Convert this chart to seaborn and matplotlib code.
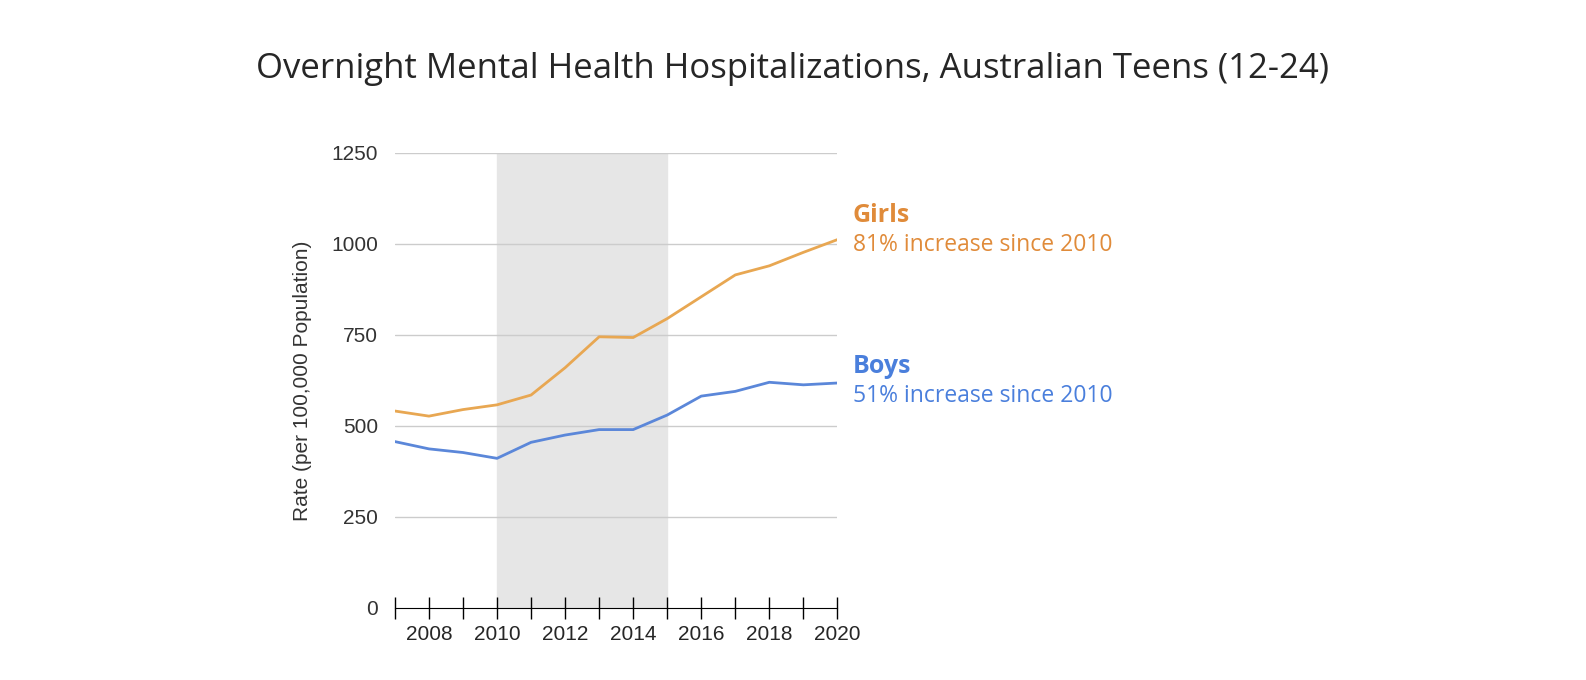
import matplotlib
matplotlib.use("Agg")
import matplotlib.pyplot as plt
import seaborn as sns
import pandas as pd

years = list(range(2007, 2021))
girls = [541, 527, 545, 558, 585, 660, 745, 743, 795, 855, 915, 940, 977, 1012]
boys = [457, 437, 427, 411, 455, 475, 490, 490, 530, 582, 595, 620, 613, 618]
shade_start, shade_end = 2010, 2015

df = pd.DataFrame({"year": years * 2, "rate": girls + boys,
                   "group": ["Girls"] * len(years) + ["Boys"] * len(years)})

sns.set_style("white")
plt.rcParams["font.family"] = ["Liberation Sans", "DejaVu Sans"]

fig = plt.figure(figsize=(15.86, 6.8), dpi=100)
ax = fig.add_axes([0.249, 0.106, 0.279, 0.669])

ax.axvspan(shade_start, shade_end, color="#e6e6e6", zorder=0)
for v in [250, 500, 750, 1000, 1250]:
    ax.axhline(v, color="#cccccc", lw=1, zorder=1)

sns.lineplot(data=df, x="year", y="rate", hue="group",
             palette={"Girls": "#e8a752", "Boys": "#5b87d9"},
             lw=2, legend=False, ax=ax, zorder=3)

ax.set_xlim(2007, 2020)
ax.set_ylim(0, 1250)
ax.set_yticks([0, 250, 500, 750, 1000, 1250])
ax.set_xticks(range(2008, 2021, 2))
ax.set_xticks(range(2007, 2021), minor=True)
ax.tick_params(axis="x", which="both", bottom=True, direction="inout", length=16, width=1,
               color="black", labelsize=15, pad=4)
ax.tick_params(axis="y", length=0, labelsize=15, labelcolor="#333333", pad=12)
for s in ["top", "right", "left"]:
    ax.spines[s].set_visible(False)
ax.spines["bottom"].set_color("black")
ax.set_xlabel("")
ax.set_ylabel("Rate (per 100,000 Population)", fontsize=15, color="#333333", labelpad=14)

ann = dict(transform=ax.transData, family=["Open Sans", "DejaVu Sans"], clip_on=False)
ax.text(2020.45, 1060, "Girls", color="#e08b3a", fontsize=18, fontweight="bold", **ann)
ax.text(2020.45, 980, "81% increase since 2010", color="#e08b3a", fontsize=16.5, **ann)
ax.text(2020.45, 645, "Boys", color="#4a7fdc", fontsize=18, fontweight="bold", **ann)
ax.text(2020.45, 565, "51% increase since 2010", color="#4a7fdc", fontsize=16.5, **ann)

fig.text(0.5, 0.885, "Overnight Mental Health Hospitalizations, Australian Teens (12-24)",
         ha="center", fontsize=25, family=["Open Sans", "DejaVu Sans"])

fig.savefig("out.png", dpi=100)
